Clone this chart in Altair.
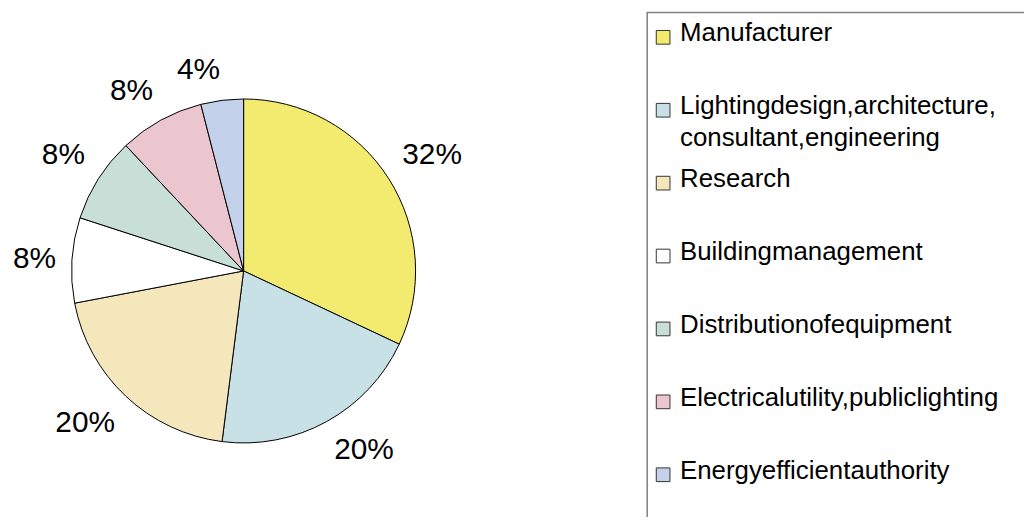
import altair as alt
import pandas as pd

categories = [
    "Manufacturer",
    "Lighting design, architecture, consultant, engineering",
    "Research",
    "Building management",
    "Distribution of equipment",
    "Electrical utility, public lighting",
    "Energy efficient authority",
]
legend_labels = [
    "Manufacturer",
    "Lightingdesign,architecture,\nconsultant,engineering",
    "Research",
    "Buildingmanagement",
    "Distributionofequipment",
    "Electricalutility,publiclighting",
    "Energyefficientauthority",
]
shares = [32, 20, 20, 8, 8, 8, 4]
pct_labels = ["32%", "20%", "20%", "8%", "8%", "8%", "4%"]
colors = ["#f2eb70", "#c8e1e6", "#f5e7bc", "#ffffff", "#c8dfd7", "#ebc6cf", "#c3d1ea"]

df = pd.DataFrame({
    "category": categories,
    "share": shares,
    "pct": pct_labels,
    "legend": legend_labels,
    "idx": list(range(len(categories))),
})

cscale = alt.Scale(domain=categories, range=colors)
FONT = "Liberation Sans"

arcs = alt.Chart(df).mark_arc(outerRadius=173, stroke="black", strokeWidth=1).encode(
    theta=alt.Theta("share:Q", stack=True),
    order=alt.Order("idx:Q"),
    color=alt.Color("category:N", scale=cscale, legend=None),
)

# label anchor = mid-angle of each slice (in share units, same theta scale as the arcs)
lab_base = (
    alt.Chart(df)
    .transform_window(cum="sum(share)", sort=[alt.SortField("idx")])
    .transform_joinaggregate(total="sum(share)")
    .transform_calculate(
        mid="datum.cum - datum.share / 2",
        ang="(datum.cum - datum.share / 2) / datum.total * 2 * PI",
    )
)

side = {"left": "datum.ang < PI", "right": "datum.ang >= PI"}
vert = {
    "bottom": "cos(datum.ang) > 0.25",
    "middle": "abs(cos(datum.ang)) <= 0.25",
    "top": "cos(datum.ang) < -0.25",
}
label_layers = []
for al, s_expr in side.items():
    for bl, v_expr in vert.items():
        label_layers.append(
            lab_base.transform_filter(s_expr).transform_filter(v_expr)
            .mark_text(radius=189, align=al, baseline=bl, fontSize=30, font=FONT, color="black")
            .encode(theta=alt.Theta("mid:Q", stack=False), text="pct:N")
        )

pie = alt.layer(arcs, *label_layers).properties(
    width=474, height=520, view=alt.ViewBackground(strokeWidth=0)
)

leg_base = alt.Chart(df).encode(
    y=alt.Y("category:N", sort=categories, axis=None,
            scale=alt.Scale(type="point", range=[25, 465], padding=0))
)
swatches = leg_base.mark_point(
    shape="square", size=190, filled=True, stroke="#333333", strokeWidth=1, opacity=1
).encode(
    x=alt.value(16),
    fill=alt.Fill("category:N", scale=cscale, legend=None),
)
names = leg_base.mark_text(
    align="left", baseline="alphabetic", dy=4, fontSize=26, font=FONT,
    lineBreak="\n", lineHeight=32, color="black"
).encode(x=alt.value(33), text="legend:N")

legend = alt.layer(swatches, names).properties(
    width=400, height=530,
    view=alt.ViewBackground(stroke="#808080", strokeWidth=1.5, fill="white"),
)

chart = alt.hconcat(pie, legend, spacing=168).properties(
    padding={"left": 0, "top": 2, "right": -22, "bottom": -25}
).configure(background="white")

chart.save("out.html", embed_options={"renderer": "svg", "actions": False})
